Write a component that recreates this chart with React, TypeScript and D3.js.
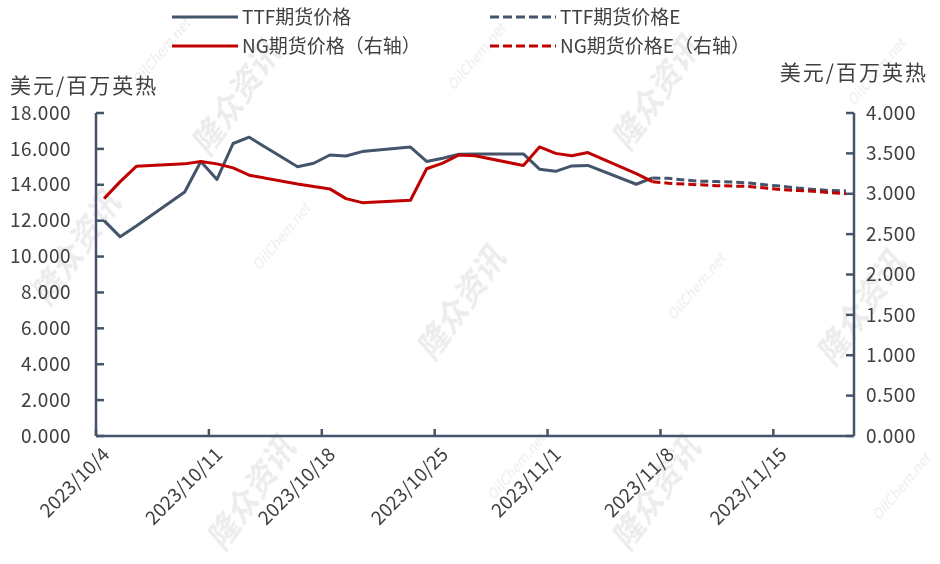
import { useRef, useEffect } from "react";
import * as d3 from "d3";

const actualDates = [
  "2023/10/4", "2023/10/5", "2023/10/6", "2023/10/9", "2023/10/10", "2023/10/11",
  "2023/10/12", "2023/10/13", "2023/10/16", "2023/10/17", "2023/10/18", "2023/10/19",
  "2023/10/20", "2023/10/23", "2023/10/24", "2023/10/25", "2023/10/26", "2023/10/27",
  "2023/10/30", "2023/10/31", "2023/11/1", "2023/11/2", "2023/11/3", "2023/11/6",
  "2023/11/7",
];
const ttfPrice = [
  12.0, 11.1, 11.7, 13.6, 15.3, 14.3, 16.3, 16.65, 15.0, 15.2, 15.66, 15.6, 15.85,
  16.1, 15.3, 15.48, 15.7, 15.72, 15.72, 14.87, 14.75, 15.05, 15.08, 14.03, 14.38,
];
const ngPrice = [
  2.94, 3.15, 3.34, 3.37, 3.4, 3.37, 3.32, 3.23, 3.12, 3.09, 3.06, 2.94, 2.89, 2.92,
  3.31, 3.38, 3.48, 3.47, 3.35, 3.58, 3.5, 3.47, 3.51, 3.25, 3.15,
];

const forecastDates = [
  "2023/11/7", "2023/11/8", "2023/11/9", "2023/11/10", "2023/11/11", "2023/11/12",
  "2023/11/13", "2023/11/14", "2023/11/15", "2023/11/16", "2023/11/17", "2023/11/18",
  "2023/11/19",
];
const ttfForecast = [14.38, 14.36, 14.26, 14.2, 14.18, 14.15, 14.1, 14.0, 13.92, 13.82, 13.74, 13.68, 13.66];
const ngForecast = [3.15, 3.13, 3.12, 3.11, 3.1, 3.095, 3.09, 3.07, 3.05, 3.04, 3.03, 3.015, 3.0];

const xTickLabels = ["2023/10/4", "2023/10/11", "2023/10/18", "2023/10/25", "2023/11/1", "2023/11/8", "2023/11/15"];
const leftTicks = [0, 2, 4, 6, 8, 10, 12, 14, 16, 18];
const rightTicks = [0, 0.5, 1, 1.5, 2, 2.5, 3, 3.5, 4];

const legendItems = [
  { label: "TTF期货价格", color: "#44546A", dashed: false, col: 0, row: 0 },
  { label: "TTF期货价格E", color: "#44546A", dashed: true, col: 1, row: 0 },
  { label: "NG期货价格（右轴）", color: "#C00000", dashed: false, col: 0, row: 1 },
  { label: "NG期货价格E（右轴）", color: "#C00000", dashed: true, col: 1, row: 1 },
];

const FONT = "'Noto Sans CJK SC', 'Noto Sans', sans-serif";
const AXIS = "#44546A";
const TEXT = "#404040";

export default function App() {
  const svgRef = useRef<SVGSVGElement | null>(null);

  useEffect(() => {
    const svg = d3.select(svgRef.current);
    svg.selectAll("*").remove();

    const width = 940;
    const height = 564;
    const plot = { left: 96, right: 854, top: 113, bottom: 436 };
    const parse = d3.timeParse("%Y/%m/%d");
    // points sit in the middle of each day slot
    const mid = (s: string) => d3.timeHour.offset(parse(s) as Date, 12);

    const x = d3
      .scaleTime()
      .domain([parse("2023/10/4") as Date, parse("2023/11/20") as Date])
      .range([plot.left, plot.right]);
    const yL = d3.scaleLinear().domain([0, 18]).range([plot.bottom, plot.top]);
    const yR = d3.scaleLinear().domain([0, 4]).range([plot.bottom, plot.top]);

    svg.attr("width", width).attr("height", height);
    svg.append("rect").attr("width", width).attr("height", height).attr("fill", "#fff");

    // watermarks
    const wm = svg.append("g").attr("fill", "#d0d0d0").attr("opacity", 0.4).style("font-family", FONT);
    const cnMarks = [[245, 105], [665, 100], [470, 310], [870, 315], [85, 255], [260, 500], [665, 500]];
    cnMarks.forEach(([cx, cy]) => {
      wm.append("text")
        .attr("transform", `translate(${cx},${cy}) rotate(-55)`)
        .attr("text-anchor", "middle")
        .style("font-size", "32px")
        .style("font-weight", "bold")
        .style("font-style", "italic")
        .text("隆众资讯");
    });
    const enMarks = [[165, 55], [480, 60], [285, 240], [880, 75], [700, 290], [520, 470], [905, 490]];
    enMarks.forEach(([cx, cy]) => {
      wm.append("text")
        .attr("transform", `translate(${cx},${cy}) rotate(-50)`)
        .attr("text-anchor", "middle")
        .style("font-size", "14px")
        .style("font-style", "italic")
        .text("OilChem.net");
    });

    // lines
    const lineL = d3
      .line<[string, number]>()
      .x((d) => x(mid(d[0])))
      .y((d) => yL(d[1]));
    const lineR = d3
      .line<[string, number]>()
      .x((d) => x(mid(d[0])))
      .y((d) => yR(d[1]));

    const series = [
      { path: lineL(d3.zip(actualDates, ttfPrice) as any), color: "#44546A", dash: null },
      { path: lineR(d3.zip(actualDates, ngPrice) as any), color: "#C00000", dash: null },
      { path: lineL(d3.zip(forecastDates, ttfForecast) as any), color: "#44546A", dash: "8,4" },
      { path: lineR(d3.zip(forecastDates, ngForecast) as any), color: "#C00000", dash: "8,4" },
    ];
    series.forEach((s) => {
      svg.append("path")
        .attr("d", s.path)
        .attr("fill", "none")
        .attr("stroke", s.color)
        .attr("stroke-width", 3)
        .attr("stroke-linejoin", "round")
        .attr("stroke-dasharray", s.dash);
    });

    // axes
    const ax = svg.append("g").attr("stroke", AXIS).attr("stroke-width", 2.5).attr("fill", "none");
    ax.append("line").attr("x1", plot.left).attr("x2", plot.left).attr("y1", plot.top).attr("y2", plot.bottom);
    ax.append("line").attr("x1", plot.right).attr("x2", plot.right).attr("y1", plot.top).attr("y2", plot.bottom);
    ax.append("line").attr("x1", plot.left).attr("x2", plot.right).attr("y1", plot.bottom).attr("y2", plot.bottom);

    leftTicks.forEach((v) => {
      ax.append("line").attr("x1", plot.left).attr("x2", plot.left + 8).attr("y1", yL(v)).attr("y2", yL(v));
    });
    rightTicks.forEach((v) => {
      ax.append("line").attr("x1", plot.right - 8).attr("x2", plot.right).attr("y1", yR(v)).attr("y2", yR(v));
    });
    xTickLabels.forEach((t) => {
      const px = x(parse(t) as Date);
      ax.append("line").attr("x1", px).attr("x2", px).attr("y1", plot.bottom).attr("y2", plot.bottom - 7);
    });

    const txt = svg.append("g").attr("fill", TEXT).style("font-family", FONT);
    leftTicks.forEach((v) => {
      txt.append("text")
        .attr("x", 71)
        .attr("y", yL(v))
        .attr("dy", "0.35em")
        .attr("text-anchor", "end")
        .style("font-size", "19px")
        .style("letter-spacing", "0.5px")
        .text(d3.format(".3f")(v));
    });
    rightTicks.forEach((v) => {
      txt.append("text")
        .attr("x", 866)
        .attr("y", yR(v))
        .attr("dy", "0.35em")
        .style("font-size", "19px")
        .style("letter-spacing", "0.5px")
        .text(d3.format(".3f")(v));
    });
    xTickLabels.forEach((t) => {
      const px = x(parse(t) as Date);
      txt.append("text")
        .attr("transform", `translate(${px + 10},${plot.bottom + 15}) rotate(-45)`)
        .attr("text-anchor", "end")
        .attr("dy", "0.35em")
        .style("font-size", "19px")
        .text(t);
    });

    txt.append("text")
      .attr("x", 10)
      .attr("y", 93)
      .style("font-size", "21px")
      .style("letter-spacing", "2px")
      .text("美元/百万英热");
    txt.append("text")
      .attr("x", 928)
      .attr("y", 80)
      .attr("text-anchor", "end")
      .style("font-size", "21px")
      .style("letter-spacing", "2px")
      .text("美元/百万英热");

    // legend
    const colX = [172, 490];
    const rowY = [17, 46];
    legendItems.forEach((it) => {
      const lx = colX[it.col];
      const ly = rowY[it.row];
      svg.append("line")
        .attr("x1", lx)
        .attr("x2", lx + 66)
        .attr("y1", ly)
        .attr("y2", ly)
        .attr("stroke", it.color)
        .attr("stroke-width", 3)
        .attr("stroke-dasharray", it.dashed ? "9,4" : null);
      txt.append("text")
        .attr("x", lx + 70)
        .attr("y", ly)
        .attr("dy", "0.35em")
        .style("font-size", "19px")
        .text(it.label);
    });
  }, []);

  return (
    <div style={{ position: "absolute", left: 0, top: 0, width: 940, height: 564 }}>
      <svg ref={svgRef} />
    </div>
  );
}
